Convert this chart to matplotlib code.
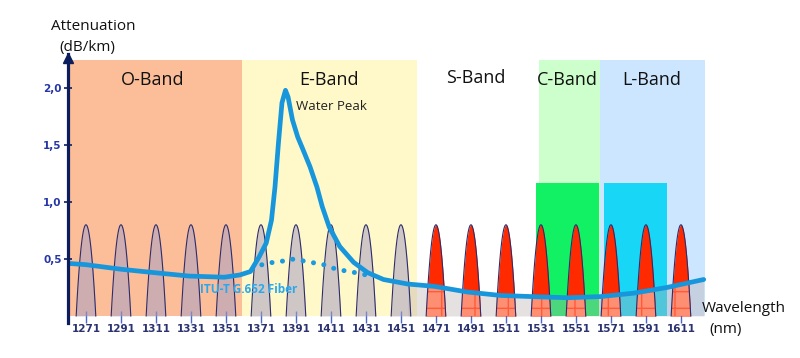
import numpy as np
import matplotlib
matplotlib.use("Agg")
from matplotlib import pyplot as plt

plt.rcParams['font.family'] = ['Open Sans', 'DejaVu Sans']

# bands (nm)
band_names = ['O-Band', 'E-Band', 'S-Band', 'C-Band', 'L-Band']
band_start = [1260, 1360, 1460, 1530, 1565]
band_end = [1360, 1460, 1530, 1565, 1625]
band_colors = ['#fbbe98', '#fff8c9', '#ffffff', '#ccffcc', '#cce6ff']
band_label_x = [1309, 1410, 1494, 1546, 1594]
band_label_y = [2.07, 2.07, 2.09, 2.07, 2.07]

# CWDM channels
channels = [1271, 1291, 1311, 1331, 1351, 1371, 1391, 1411, 1431, 1451,
            1471, 1491, 1511, 1531, 1551, 1571, 1591, 1611]
channel_height = 0.8
red_channels = [1471, 1491, 1511, 1531, 1551, 1571, 1591, 1611]

# amplifier blocks
block_start = [1528, 1567]
block_end = [1564, 1603]
block_top = [1.17, 1.17]
block_colors = ['#12f064', '#18d6f6']

# G.652 fiber attenuation (with water peak)
fiber_nm = [1262, 1271, 1291, 1310, 1330, 1350, 1359, 1365, 1370, 1374, 1377,
            1379, 1381, 1383, 1385, 1386.5, 1389, 1392, 1395, 1399, 1403, 1406,
            1410, 1416, 1424, 1432, 1441, 1455, 1470, 1489, 1508, 1526, 1546,
            1565, 1584, 1603, 1624]
fiber_att = [0.46, 0.45, 0.41, 0.38, 0.35, 0.34, 0.36, 0.39, 0.52, 0.64, 0.84,
             1.13, 1.52, 1.87, 1.98, 1.92, 1.72, 1.57, 1.46, 1.31, 1.13, 0.96,
             0.78, 0.61, 0.47, 0.38, 0.32, 0.28, 0.26, 0.21, 0.18, 0.17, 0.16,
             0.17, 0.20, 0.25, 0.32]

# low water peak fiber (dotted)
lwp_nm = [1366, 1373, 1383, 1388, 1393, 1399, 1405, 1414, 1425, 1431]
lwp_att = [0.41, 0.46, 0.48, 0.50, 0.49, 0.47, 0.46, 0.41, 0.38, 0.36]

yticks = [0.5, 1.0, 1.5, 2.0]
ytick_labels = ['0,5', '1,0', '1,5', '2,0']

fig = plt.figure(figsize=(8, 3.58), dpi=100)
ax = fig.add_axes([0.0856, 0.0983, 0.8159, 0.7514])
ax.set_xlim(1261, 1634)
ax.set_ylim(-0.06, 2.3)

for s, e, c in zip(band_start, band_end, band_colors):
    ax.fill_between([s, e], 0, 2.25, color=c, zorder=0, lw=0)
for name, x, y in zip(band_names, band_label_x, band_label_y):
    ax.text(x, y, name, ha='center', va='center', fontsize=13, color='#111111', zorder=6)

for s, e, t, c in zip(block_start, block_end, block_top, block_colors):
    ax.fill_between([s, e], 0, t, color=c, zorder=1, lw=0)

# light area under the fiber curve in the S/C/L region
fx = np.array(fiber_nm, dtype=float)
fy = np.array(fiber_att)
m = fx >= 1455
ax.fill_between(fx[m], 0, fy[m], color='#b9a9a9', alpha=0.35, lw=0, zorder=1.5)

for ch in channels:
    xs = np.linspace(ch - 5.6, ch + 5.6, 60)
    u = (xs - ch) / 5.6
    ys = channel_height * (1 - u ** 2)
    if ch in red_channels:
        ax.fill_between(xs, 0, ys, color='#ff2a00', lw=0, zorder=2)
        low = np.minimum(ys, np.interp(xs, fx, fy))
        ax.fill_between(xs, 0, low, facecolor='#ff8f72', edgecolor='#ff5a3a',
                        hatch='+', lw=0, zorder=2.5)
    else:
        ax.fill_between(xs, 0, ys, color='#a89fc2', alpha=0.55, lw=0, zorder=2)
    ax.plot(xs, ys, color='#2c2c6e', lw=0.8, zorder=2.6)

ax.plot(lwp_nm, lwp_att, color='#1a9be0', lw=3.6, linestyle=(0, (0.01, 2.1)),
        dash_capstyle='round', zorder=3)
ax.plot(fiber_nm, fiber_att, color='#1796dc', lw=3.4, solid_capstyle='round',
        solid_joinstyle='round', zorder=4)

ax.text(1336, 0.23, 'ITU-T G.652 Fiber', color='#2aa8ee', fontsize=8.5,
        fontweight='bold', ha='left', va='center', zorder=6)
ax.text(1411, 1.84, 'Water Peak', color='#222222', fontsize=9.5,
        ha='center', va='center', zorder=6)

for sp in ['top', 'right', 'bottom']:
    ax.spines[sp].set_visible(False)
ax.spines['left'].set_color('#0c1d5e')
ax.spines['left'].set_linewidth(2.3)
ax.spines['left'].set_zorder(7)
ax.plot(0, 0.985, marker='^', color='#0c1d5e', markersize=7, transform=ax.transAxes,
        clip_on=False, zorder=8)

ax.set_yticks(yticks)
ax.set_yticklabels(ytick_labels)
ax.tick_params(axis='y', direction='inout', length=6, width=1.2, color='#0c1d5e',
               labelsize=7.5, labelcolor='#2536a6', pad=2)
for lbl in ax.get_yticklabels():
    lbl.set_fontweight('bold')
    lbl.set_family('DejaVu Sans')

ax.set_xticks(channels)
ax.set_xticklabels([str(c) for c in channels])
ax.tick_params(axis='x', direction='in', length=9, width=1, color='#4a68cc',
               labelsize=7.5, labelcolor='#2b3270', pad=1)
for lbl in ax.get_xticklabels():
    lbl.set_fontweight('bold')
    lbl.set_family('DejaVu Sans')

fig.text(93 / 800, 1 - 27 / 358, 'Attenuation', ha='center', va='center', fontsize=11, color='#111111')
fig.text(87 / 800, 1 - 47 / 358, '(dB/km)', ha='center', va='center', fontsize=11, color='#111111')
fig.text(702 / 800, 1 - 308 / 358, 'Wavelength', ha='left', va='center', fontsize=11, color='#111111')
fig.text(709 / 800, 1 - 330 / 358, '(nm)', ha='left', va='center', fontsize=11, color='#111111')

fig.savefig('out.png', dpi=100)
